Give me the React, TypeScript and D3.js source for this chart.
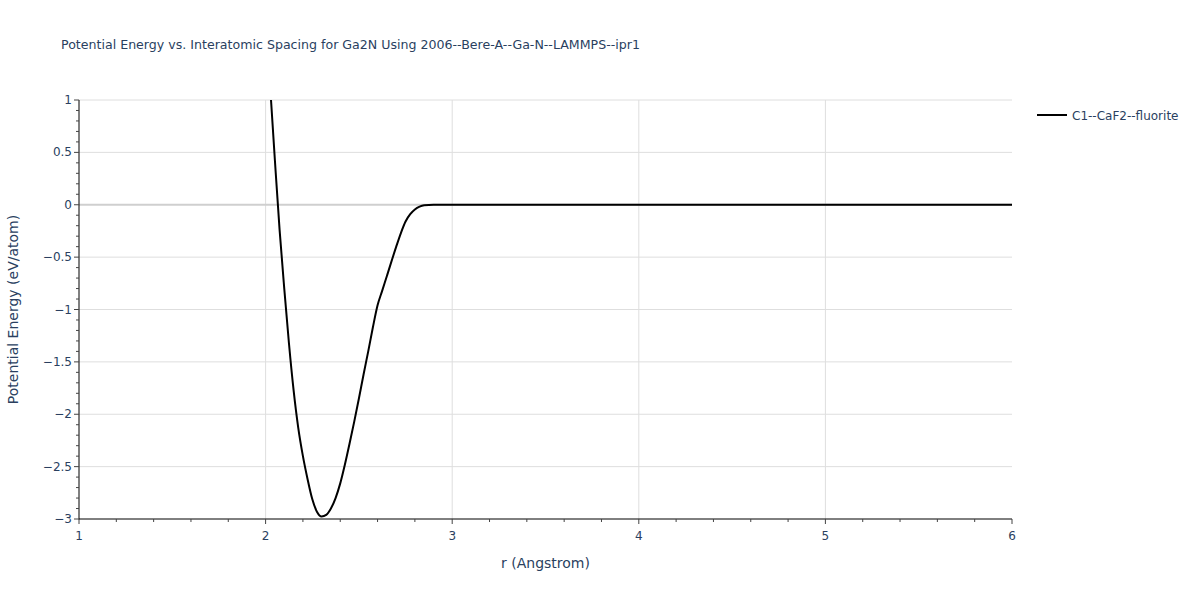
import React from "react";
import * as d3 from "d3";

const rValues = [2.029, 2.05, 2.075, 2.1, 2.125, 2.15, 2.175, 2.2, 2.225, 2.25, 2.275, 2.3, 2.325, 2.35, 2.375, 2.4, 2.425, 2.45, 2.475, 2.5, 2.525, 2.55, 2.575, 2.6, 2.625, 2.65, 2.7, 2.725, 2.75, 2.775, 2.8, 2.825, 2.85, 2.9, 3.0, 3.5, 4.0, 4.5, 5.0, 5.5, 6.0];
const energyValues = [1.0, 0.42, -0.24, -0.8, -1.32, -1.77, -2.13, -2.4, -2.62, -2.81, -2.93, -2.975, -2.96, -2.9, -2.8, -2.66, -2.48, -2.28, -2.07, -1.85, -1.62, -1.4, -1.17, -0.96, -0.82, -0.68, -0.4, -0.27, -0.16, -0.09, -0.045, -0.018, -0.005, 0, 0, 0, 0, 0, 0, 0, 0];
const xTicks = [1, 2, 3, 4, 5, 6];
const yTicks = [1, 0.5, 0, -0.5, -1, -1.5, -2, -2.5, -3];
const titleText = "Potential Energy vs. Interatomic Spacing for Ga2N Using 2006--Bere-A--Ga-N--LAMMPS--ipr1";
const seriesName = "C1--CaF2--fluorite";

const W = 1200, H = 600;
const left = 79, right = 1012, top = 100, bottom = 519;
const font = "'DejaVu Sans', Verdana, sans-serif";
const textColor = "#2a3f5f";

export default function App() {
  const x = d3.scaleLinear().domain([1, 6]).range([left, right]);
  const y = d3.scaleLinear().domain([-3, 1]).range([bottom, top]);
  const pts = rValues.map((r, i) => [r, energyValues[i]] as [number, number]);
  const line = d3.line<[number, number]>().x(d => x(d[0])).y(d => y(d[1])).curve(d3.curveMonotoneX);
  const xMinor = d3.range(1, 6.001, 0.2).filter(v => Math.abs(v - Math.round(v)) > 1e-6);
  const yMinor = d3.range(-3, 1.001, 0.1).filter(v => Math.abs(v * 2 - Math.round(v * 2)) > 1e-6);
  const fmt = (v: number) => (v < 0 ? "\u2212" + String(Math.abs(v)) : String(v));
  return (
    <svg width={W} height={H} style={{ position: "absolute", left: 0, top: 0, background: "#fff" }}>
      <defs>
        <clipPath id="plot-clip">
          <rect x={left} y={top} width={right - left} height={bottom - top} />
        </clipPath>
      </defs>
      <text x={61} y={49} fontFamily={font} fontSize={12.6} fill={textColor}>{titleText}</text>
      {xTicks.filter(v => v > 1 && v < 6).map(v => (
        <line key={"gx" + v} x1={x(v)} x2={x(v)} y1={top} y2={bottom} stroke="#dedede" strokeWidth={1} />
      ))}
      {yTicks.filter(v => v !== 0 && v !== -3).map(v => (
        <line key={"gy" + v} x1={left} x2={right} y1={y(v)} y2={y(v)} stroke="#dedede" strokeWidth={1} />
      ))}
      <line x1={left} x2={right} y1={y(0)} y2={y(0)} stroke="#cfcfcf" strokeWidth={2} />
      <path d={line(pts) || ""} fill="none" stroke="#000" strokeWidth={2} clipPath="url(#plot-clip)" />
      <line x1={left} x2={left} y1={top} y2={bottom + 0.5} stroke="#000" strokeWidth={1} />
      <line x1={left} x2={right} y1={bottom} y2={bottom} stroke="#000" strokeWidth={1} />
      {xTicks.map(v => (
        <g key={"xt" + v}>
          <line x1={x(v)} x2={x(v)} y1={bottom} y2={bottom + 5} stroke="#444" strokeWidth={1} />
          <text x={x(v)} y={bottom + 21} textAnchor="middle" fontFamily={font} fontSize={12} fill={textColor}>{fmt(v)}</text>
        </g>
      ))}
      {xMinor.map(v => (
        <line key={"xm" + v} x1={x(v)} x2={x(v)} y1={bottom} y2={bottom + 3} stroke="#444" strokeWidth={1} />
      ))}
      {yTicks.map(v => (
        <g key={"yt" + v}>
          <line x1={left - 5} x2={left} y1={y(v)} y2={y(v)} stroke="#444" strokeWidth={1} />
          <text x={left - 7} y={y(v) + 4} textAnchor="end" fontFamily={font} fontSize={12} fill={textColor}>{fmt(v)}</text>
        </g>
      ))}
      {yMinor.map(v => (
        <line key={"ym" + v} x1={left - 3} x2={left} y1={y(v)} y2={y(v)} stroke="#444" strokeWidth={1} />
      ))}
      <text x={(left + right) / 2} y={568} textAnchor="middle" fontFamily={font} fontSize={14} fill={textColor}>r (Angstrom)</text>
      <text transform={`translate(18, ${(top + bottom) / 2}) rotate(-90)`} textAnchor="middle" fontFamily={font} fontSize={14} fill={textColor}>Potential Energy (eV/atom)</text>
      <line x1={1037} x2={1067} y1={115} y2={115} stroke="#000" strokeWidth={2} />
      <text x={1072} y={119.5} fontFamily={font} fontSize={12} fill={textColor}>{seriesName}</text>
    </svg>
  );
}
